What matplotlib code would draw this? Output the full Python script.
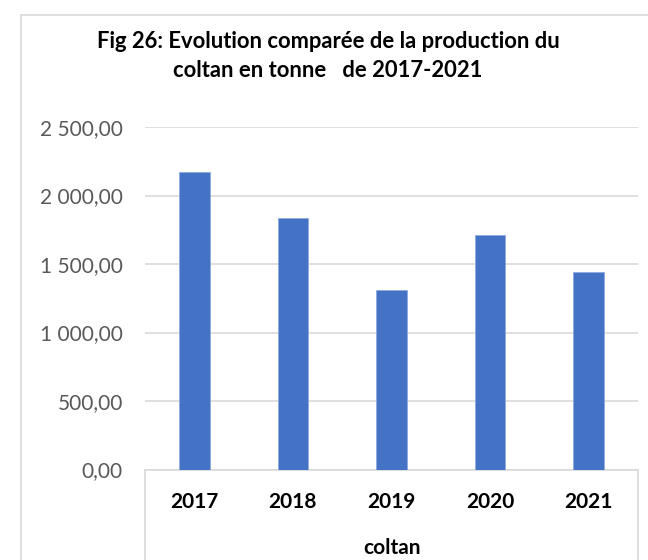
from matplotlib import pyplot as plt
from matplotlib.ticker import FuncFormatter
from matplotlib.lines import Line2D
import numpy as np

## Data
years = ["2017", "2018", "2019", "2020", "2021"]
production = [2175, 1839, 1313, 1713, 1442]  # tonnes
yticks = [0, 500, 1000, 1500, 2000, 2500]

title = "Fig 26: Evolution comparée de la production du\ncoltan en tonne   de 2017-2021"
group_label = "coltan"

## Style
bar_color = "#4472C4"
grid_color = "#D9D9D9"
tick_color = "#595959"
fsize = 15

plt.rcParams["font.family"] = ["Lato", "DejaVu Sans"]

W, H = 648, 560
fig = plt.figure(figsize=(W / 100, H / 100), dpi=100)
ax = fig.add_axes([145 / W, 1 - 469.5 / H, (638 - 145) / W, (469.5 - 127) / H])

x = np.arange(len(years))
ax.bar(x, production, width=0.31, color=bar_color, edgecolor="#8FAADC", linewidth=0.6, zorder=3)

ax.set_xlim(-0.5, len(years) - 0.5)
ax.set_ylim(0, 2500)
ax.set_yticks(yticks)
ax.yaxis.set_major_formatter(
    FuncFormatter(lambda v, p: f"{v:,.2f}".replace(",", " ").replace(".", ","))
)
ax.grid(axis="y", color=grid_color, linewidth=1.2, zorder=0)

for s in ["top", "right", "left"]:
    ax.spines[s].set_visible(False)
ax.spines["bottom"].set_color(grid_color)
ax.spines["bottom"].set_linewidth(1.2)

ax.set_xticks(x)
ax.set_xticklabels(years, fontweight="bold", fontsize=fsize, color="black")
ax.tick_params(axis="x", length=0, pad=16)
ax.tick_params(axis="y", length=0, pad=16, labelsize=fsize, labelcolor=tick_color)

# category box below the axis and outer chart border
fig.add_artist(Line2D([145 / W, 145 / W], [0, 1 - 469.5 / H], color=grid_color, lw=1.2))
fig.add_artist(Line2D([638 / W, 638 / W], [0, 1 - 469.5 / H], color=grid_color, lw=1.2))
fig.add_artist(Line2D([21 / W, 21 / W], [0, 1 - 15 / H], color=grid_color, lw=1.2))
fig.add_artist(Line2D([21 / W, 1], [1 - 15 / H, 1 - 15 / H], color=grid_color, lw=1.2))

fig.text(391.5 / W, 1 - 548 / H, group_label, ha="center", va="center",
         fontsize=fsize, fontweight="bold")
fig.text(328 / W, 1 - 56 / H, title, ha="center", va="center",
         fontsize=15.8, fontweight="bold", linespacing=1.45)

fig.savefig("out.png", dpi=100)
